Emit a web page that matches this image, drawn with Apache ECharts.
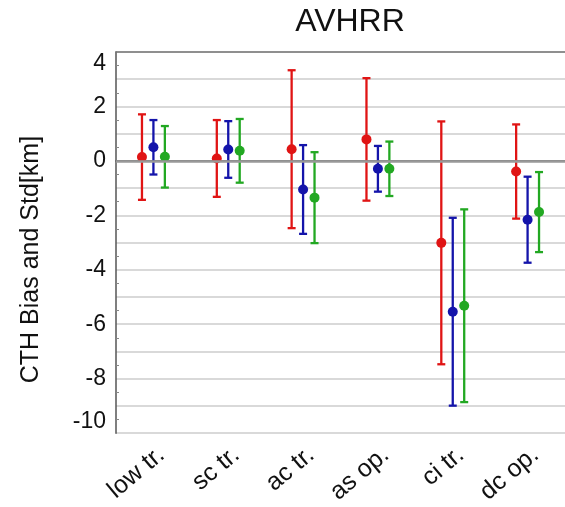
<!DOCTYPE html>
<html><head><meta charset="utf-8">
<script src="https://cdn.jsdelivr.net/npm/echarts@6/dist/echarts.min.js"></script>
<style>html,body{margin:0;padding:0;background:#fff}#c{width:565px;height:507px}</style>
</head><body><div id="c"></div>
<script>
const categories = ['low tr.', 'sc tr.', 'ac tr.', 'as op.', 'ci tr.', 'dc op.'];
const redMean   = [0.14, 0.09, 0.43, 0.79, -3.01, -0.39];
const redStd    = [1.57, 1.41, 2.90, 2.25, 4.46, 1.73];
const blueMean  = [0.50, 0.42, -1.05, -0.29, -5.54, -2.16];
const blueStd   = [1.00, 1.04, 1.63, 0.84, 3.45, 1.58];
const greenMean = [0.15, 0.37, -1.35, -0.29, -5.32, -1.88];
const greenStd  = [1.13, 1.17, 1.67, 1.00, 3.54, 1.47];
const yMin = -10, yMax = 4;

const FONT = 'Liberation Sans';

function toData(means, stds) {
  return means.map((m, i) => [i, m, stds[i]]);
}
function makeRender(offsetFrac, color) {
  return function (params, api) {
    const i = api.value(0), m = api.value(1), s = api.value(2);
    const bw = api.size([1, 0])[0];
    const dx = bw * offsetFrac;
    const c = api.coord([i, m]);
    const t = api.coord([i, m + s]);
    const b = api.coord([i, m - s]);
    const x = c[0] + dx;
    const cap = 4;
    const st = { stroke: color, lineWidth: 2.3 };
    return {
      type: 'group',
      children: [
        { type: 'line', shape: { x1: x, y1: t[1], x2: x, y2: b[1] }, style: st },
        { type: 'line', shape: { x1: x - cap, y1: t[1], x2: x + cap, y2: t[1] }, style: st },
        { type: 'line', shape: { x1: x - cap, y1: b[1], x2: x + cap, y2: b[1] }, style: st },
        { type: 'circle', shape: { cx: x, cy: c[1], r: 5 }, style: { fill: color } }
      ]
    };
  };
}

const chart = echarts.init(document.getElementById('c'), null, { renderer: 'canvas' });
chart.setOption({
  backgroundColor: '#fff',
  animation: false,
  title: {
    text: 'AVHRR', left: 345, top: 1, textAlign: 'center',
    textStyle: { fontFamily: FONT, fontSize: 32, fontWeight: 'normal', color: '#111' }
  },
  grid: { left: 116, top: 52, width: 458, bottom: 72, containLabel: false },
  xAxis: [{
    type: 'category', data: categories, position: 'bottom',
    axisLine: { lineStyle: { color: '#555', width: 1.5 } },
    axisTick: { alignWithLabel: true, inside: true, length: 5, lineStyle: { color: '#777', width: 1.5 } },
    axisLabel: {
      rotate: 40, interval: 0, margin: 9, align: 'right', verticalAlign: 'top',
      fontFamily: FONT, fontSize: 25, color: '#111'
    },
    splitLine: { show: false }
  }, {
    type: 'category', data: categories, position: 'top',
    axisLine: { lineStyle: { color: '#777', width: 1.5 } },
    axisTick: { alignWithLabel: true, inside: true, length: 5, lineStyle: { color: '#888', width: 1.5 } },
    axisLabel: { show: false }, splitLine: { show: false }
  }],
  yAxis: {
    type: 'value', min: yMin, max: yMax, interval: 1,
    name: 'CTH Bias and Std[km]', nameLocation: 'middle', nameGap: 72,
    nameTextStyle: { fontFamily: FONT, fontSize: 25, color: '#111', padding: [0, 34, 0, 0] },
    axisLine: { show: true, lineStyle: { color: '#555', width: 1.5 } },
    axisTick: { inside: true, length: 4, lineStyle: { color: '#777', width: 1 } },
    minorTick: { show: true, splitNumber: 2, length: 3, lineStyle: { color: '#888', width: 1 } },
    axisLabel: {
      margin: 10, fontFamily: FONT, fontSize: 23, color: '#111',
      verticalAlignMinLabel: 'bottom', verticalAlignMaxLabel: 'top',
      formatter: v => (v % 2 === 0 ? String(v) : '')
    },
    splitLine: { show: true, lineStyle: { color: '#cccccc', width: 1.6 } }
  },
  series: [
    {
      type: 'line', data: [], z: 1, silent: true,
      markLine: {
        silent: true, symbol: 'none', label: { show: false },
        lineStyle: { color: '#999999', width: 2.5, type: 'solid' },
        data: [{ yAxis: 0 }]
      }
    },
    { name: 'red', type: 'custom', z: 3, renderItem: makeRender(-0.153, '#e01414'), data: toData(redMean, redStd), encode: { x: 0, y: 1 } },
    { name: 'blue', type: 'custom', z: 3, renderItem: makeRender(0, '#1414aa'), data: toData(blueMean, blueStd), encode: { x: 0, y: 1 } },
    { name: 'green', type: 'custom', z: 3, renderItem: makeRender(0.153, '#22a822'), data: toData(greenMean, greenStd), encode: { x: 0, y: 1 } }
  ]
});
</script>
</body></html>
